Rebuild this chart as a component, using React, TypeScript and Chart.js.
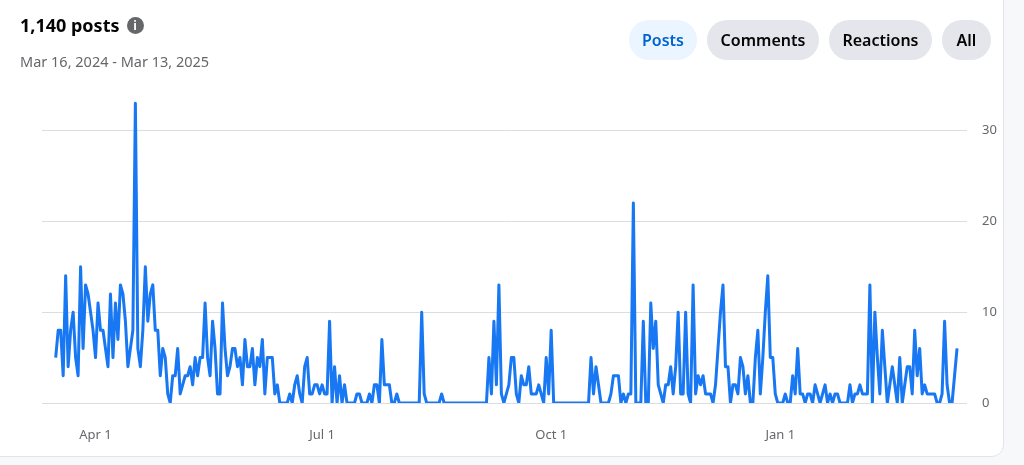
import React, { useEffect, useRef } from "react";
import { Chart, registerables } from "chart.js";

Chart.register(...registerables);

// Daily post counts, Mar 16, 2024 – Mar 13, 2025 (one array per month)
const mar2024 = [5, 8, 8, 3, 14, 4, 8, 10, 5, 3, 15, 6, 13, 12, 10, 8];
const apr2024 = [5, 11, 8, 8, 6, 4, 12, 5, 11, 7, 13, 12, 9, 4, 6, 8, 33, 6, 4, 8, 15, 9, 12, 13, 8, 8, 3, 6, 5, 1];
const may2024 = [0, 3, 3, 6, 1, 2, 3, 3, 4, 2, 5, 3, 5, 5, 11, 5, 3, 9, 6, 1, 1, 11, 6, 3, 4, 6, 6, 4, 5, 2, 7];
const jun2024 = [4, 4, 6, 2, 5, 4, 7, 1, 5, 5, 5, 1, 2, 0, 0, 0, 0, 1, 0, 2, 3, 1, 0, 4, 5, 1, 1, 2, 2, 1];
const jul2024 = [2, 1, 1, 9, 0, 4, 0, 3, 0, 2, 0, 0, 0, 0, 1, 1, 0, 0, 0, 1, 0, 2, 2, 0, 7, 2, 2, 2, 0, 0, 1];
const aug2024 = [0, 0, 0, 0, 0, 0, 0, 0, 0, 10, 1, 0, 0, 0, 0, 0, 0, 1, 0, 0, 0, 0, 0, 0, 0, 0, 0, 0, 0, 0, 0];
const sep2024 = [0, 0, 0, 0, 0, 5, 1, 9, 2, 13, 1, 0, 1, 2, 5, 5, 1, 0, 3, 2, 2, 4, 1, 1, 1, 2, 1, 0, 5, 1];
const oct2024 = [8, 0, 0, 0, 0, 0, 0, 0, 0, 0, 0, 0, 0, 0, 0, 0, 5, 1, 4, 2, 0, 0, 0, 0, 1, 3, 3, 3, 0, 1, 0];
const nov2024 = [1, 1, 22, 0, 0, 0, 9, 0, 0, 11, 6, 9, 2, 1, 0, 2, 2, 4, 1, 4, 10, 1, 1, 10, 1, 0, 13, 1, 3, 2];
const dec2024 = [3, 1, 1, 1, 0, 2, 6, 10, 13, 4, 4, 0, 2, 2, 1, 5, 4, 1, 3, 0, 0, 5, 8, 1, 5, 10, 14, 5, 5, 1, 0];
const jan2025 = [0, 0, 1, 0, 0, 3, 1, 6, 1, 1, 0, 1, 1, 0, 2, 1, 0, 1, 2, 0, 1, 0, 1, 1, 0, 0, 0, 0, 2, 0, 1];
const feb2025 = [1, 2, 1, 1, 1, 13, 0, 10, 5, 1, 8, 4, 0, 2, 4, 2, 0, 5, 0, 2, 4, 4, 1, 8, 3, 6, 1, 2];
const mar2025 = [1, 1, 1, 1, 0, 0, 1, 9, 2, 0, 0, 3, 6];

const dailyPosts = [
  ...mar2024, ...apr2024, ...may2024, ...jun2024, ...jul2024, ...aug2024,
  ...sep2024, ...oct2024, ...nov2024, ...dec2024, ...jan2025, ...feb2025, ...mar2025,
];

// x tick positions (day index from Mar 16, 2024) and their labels
const xTickIndex = [16, 107, 199, 291];
const xTickLabels = ["Apr 1", "Jul 1", "Oct 1", "Jan 1"];
const yTickValues = [0, 10, 20, 30];

const titleText = "1,140 posts";
const rangeText = "Mar 16, 2024 - Mar 13, 2025";
const buttons = ["Posts", "Comments", "Reactions", "All"];
const buttonWidths = [68, 112, 103, 49];

const FONT = "'Segoe UI', 'Noto Sans', Helvetica, Arial, sans-serif";

export default function App() {
  const ref = useRef<HTMLCanvasElement | null>(null);

  useEffect(() => {
    if (!ref.current) return;
    const chart = new Chart(ref.current, {
      type: "line",
      data: {
        datasets: [
          {
            data: dailyPosts.map((v, i) => ({ x: i, y: v })),
            borderColor: "#1877F2",
            borderWidth: 3,
            pointRadius: 0,
            tension: 0,
            fill: false,
            borderJoinStyle: "round",
          },
        ],
      },
      options: {
        animation: false,
        responsive: false,
        maintainAspectRatio: false,
        layout: { padding: { left: 42, top: 85, right: 0, bottom: 0 } },
        plugins: { legend: { display: false }, tooltip: { enabled: false } },
        scales: {
          x: {
            type: "linear",
            min: -5.5,
            max: 366,
            grid: { display: false, drawTicks: false },
            border: { display: false },
            afterBuildTicks: (s: any) => {
              s.ticks = xTickIndex.map((v) => ({ value: v }));
            },
            afterFit: (s: any) => {
              s.height = 62;
            },
            ticks: {
              autoSkip: false,
              maxRotation: 0,
              padding: 24,
              color: "#65676B",
              font: { size: 13, family: FONT },
              callback: (v: any) => {
                const k = xTickIndex.indexOf(Number(v));
                return k >= 0 ? xTickLabels[k] : "";
              },
            },
          },
          y: {
            position: "right",
            min: 0,
            max: 35,
            afterBuildTicks: (s: any) => {
              s.ticks = yTickValues.map((v) => ({ value: v }));
            },
            afterFit: (s: any) => {
              s.width = 57;
            },
            grid: { color: "#DADDE1", drawTicks: false, lineWidth: 1 },
            border: { display: false },
            ticks: {
              padding: 15,
              color: "#65676B",
              font: { size: 13, family: FONT },
            },
          },
        },
      },
    });
    return () => chart.destroy();
  }, []);

  return (
    <div style={{ position: "fixed", inset: 0, background: "#F7F8FA", fontFamily: FONT, overflow: "hidden" }}>
      <div
        style={{
          position: "absolute",
          left: -12,
          top: -12,
          width: 1016,
          height: 469,
          background: "#FFFFFF",
          border: "1px solid #E2E4E8",
          borderRadius: 12,
          boxSizing: "border-box",
        }}
      />
      <canvas ref={ref} width={1024} height={465} style={{ position: "absolute", left: 0, top: 0, display: "block" }} />
      <div style={{ position: "absolute", left: 20, top: 12, display: "flex", alignItems: "center" }}>
        <span style={{ fontSize: 18, fontWeight: 700, color: "#050505", lineHeight: "26px" }}>{titleText}</span>
        <span
          style={{
            display: "inline-flex",
            alignItems: "center",
            justifyContent: "center",
            width: 17,
            height: 17,
            borderRadius: "50%",
            background: "#65676B",
            color: "#FFFFFF",
            fontSize: 12,
            fontWeight: 700,
            lineHeight: "17px",
            marginLeft: 7,
          }}
        >
          i
        </span>
      </div>
      <div style={{ position: "absolute", left: 20, top: 52, fontSize: 14.5, color: "#65676B", lineHeight: "18px" }}>
        {rangeText}
      </div>
      <div style={{ position: "absolute", right: 33, top: 20, display: "flex", gap: 10 }}>
        {buttons.map((b, i) => (
          <div
            key={b}
            style={{
              width: buttonWidths[i],
              height: 40,
              borderRadius: 20,
              background: i === 0 ? "#EBF5FF" : "#E4E6EB",
              color: i === 0 ? "#0064D1" : "#050505",
              fontSize: 16,
              fontWeight: 600,
              display: "flex",
              alignItems: "center",
              justifyContent: "center",
            }}
          >
            {b}
          </div>
        ))}
      </div>
    </div>
  );
}
